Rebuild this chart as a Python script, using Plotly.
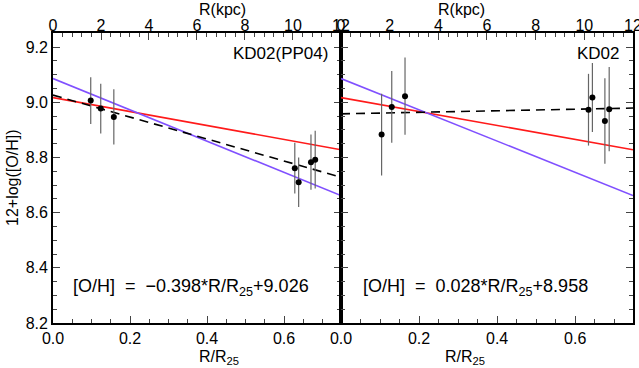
import plotly.graph_objects as go

# data
r_left = [0.098, 0.124, 0.158, 0.628, 0.638, 0.670, 0.681]
oh_left = [9.006, 8.977, 8.947, 8.761, 8.710, 8.783, 8.792]
err_left = [0.085, 0.09, 0.10, 0.092, 0.09, 0.10, 0.105]

r_right = [0.104, 0.130, 0.164, 0.634, 0.644, 0.676, 0.687]
oh_right = [8.883, 8.983, 9.022, 8.973, 9.017, 8.932, 8.975]
err_right = [0.148, 0.13, 0.14, 0.13, 0.125, 0.155, 0.153]

# fits: (slope, intercept)
fit_red = (-0.253, 9.017)
fit_blue = (-0.567, 9.086)
fit_left = (-0.398, 9.026)
fit_right = (0.028, 8.958)

XMAX = 0.748
KPC_MAX = 12.0
R25_KPC = KPC_MAX / XMAX
line_x = [0.0, XMAX]

FONT = "Liberation Sans"
PURPLE = "#8050ff"
RED = "#ff1a1a"
W, H = 639, 368

fig = go.Figure()


def add_panel(xa, ya, r, oh, err, fit):
    for (a, b), col, dash in [(fit_red, RED, "solid"), (fit_blue, PURPLE, "solid"), (fit, "black", "9px,6px")]:
        fig.add_trace(go.Scatter(x=line_x, y=[b + a * x for x in line_x], mode="lines",
                                 line=dict(color=col, width=1.6, dash=dash),
                                 xaxis=xa, yaxis=ya, showlegend=False))
    fig.add_trace(go.Scatter(x=r, y=oh, mode="markers",
                             marker=dict(color="black", size=6),
                             error_y=dict(type="data", array=err, color="#666666", thickness=1.2, width=0),
                             xaxis=xa, yaxis=ya, showlegend=False))


add_panel("x", "y", r_left, oh_left, err_left, fit_left)
add_panel("x2", "y2", r_right, oh_right, err_right, fit_right)

# invisible traces so the kpc axes are drawn
fig.add_trace(go.Scatter(x=[x * R25_KPC for x in r_left], y=oh_left, mode="markers",
                         marker=dict(opacity=0), xaxis="x3", yaxis="y", showlegend=False, hoverinfo="skip"))
fig.add_trace(go.Scatter(x=[x * R25_KPC for x in r_right], y=oh_right, mode="markers",
                         marker=dict(opacity=0), xaxis="x4", yaxis="y2", showlegend=False, hoverinfo="skip"))

tickfont = dict(family=FONT, size=16, color="black")
common_x = dict(range=[0, XMAX], dtick=0.2, tickformat=".1f", ticks="inside", ticklen=7, tickwidth=1.3,
                showline=True, linecolor="black", linewidth=1.8, showgrid=False, zeroline=False,
                automargin=False, tickfont=tickfont,
                minor=dict(dtick=0.05, ticks="inside", ticklen=4, tickwidth=1.2))
common_top = dict(range=[0, KPC_MAX + 0.001], dtick=2, ticks="inside", ticklen=7, tickwidth=1.3, side="top",
                  showline=True, linecolor="black", linewidth=1.8, showgrid=False, zeroline=False,
                  automargin=False, tickfont=tickfont, ticklabelstandoff=-6, ticklabeloverflow="allow",
                  minor=dict(dtick=0.4, ticks="inside", ticklen=4, tickwidth=1.2))
common_y = dict(range=[8.2, 9.251], dtick=0.2, tickformat=".1f", ticks="inside", ticklen=7, tickwidth=1.3,
                showline=True, linecolor="black", linewidth=1.8, mirror="ticks", showgrid=False,
                zeroline=False, automargin=False, tickfont=tickfont,
                minor=dict(dtick=0.05, ticks="inside", ticklen=4, tickwidth=1.2))

xl = [53 / W, 341 / W]
xr = [341 / W, 633 / W]
yd = [1 - 323 / H, 1 - 33 / H]

fig.update_layout(
    width=W, height=H, margin=dict(l=0, r=0, t=0, b=0),
    paper_bgcolor="white", plot_bgcolor="white",
    xaxis=dict(common_x, domain=xl, anchor="y"),
    xaxis2=dict(common_x, domain=xr, anchor="y2"),
    xaxis3=dict(common_top, overlaying="x", anchor="y"),
    xaxis4=dict(common_top, overlaying="x2", anchor="y2"),
    yaxis=dict(common_y, domain=yd, anchor="x"),
    yaxis2=dict(common_y, domain=yd, anchor="x2", showticklabels=False),
    font=dict(family=FONT, color="black"),
)

# axis titles
for dom in (xl, xr):
    cx = (dom[0] + dom[1]) / 2
    fig.add_annotation(text="R(kpc)", x=cx, y=1 - 9 / H, xref="paper", yref="paper",
                       showarrow=False, font=tickfont, yanchor="middle")
    fig.add_annotation(text="R/R<sub>25</sub>", x=cx, y=1 - 357 / H, xref="paper", yref="paper",
                       showarrow=False, font=tickfont, yanchor="middle")
fig.add_annotation(text="12+log([O/H])", x=12 / W, y=(yd[0] + yd[1]) / 2, xref="paper", yref="paper",
                   showarrow=False, font=tickfont, textangle=-90, xanchor="center")

labfont = dict(family=FONT, size=17, color="black")
eqfont = dict(family=FONT, size=18, color="black")
fig.add_annotation(text="KD02(PP04)", x=0.72, y=9.178, xref="x", yref="y", xanchor="right",
                   showarrow=False, font=labfont)
fig.add_annotation(text="KD02", x=0.72, y=9.178, xref="x2", yref="y2", xanchor="right",
                   showarrow=False, font=labfont)
fig.add_annotation(text="[O/H]  =  \u22120.398*R/R<sub>25</sub>+9.026", x=0.047, y=8.33, xref="x", yref="y",
                   xanchor="left", showarrow=False, font=eqfont)
fig.add_annotation(text="[O/H]  =  0.028*R/R<sub>25</sub>+8.958", x=0.05, y=8.33, xref="x2", yref="y2",
                   xanchor="left", showarrow=False, font=eqfont)

fig.write_html("out.html", post_script="document.body.style.margin='0';",
               config={"displayModeBar": False})
